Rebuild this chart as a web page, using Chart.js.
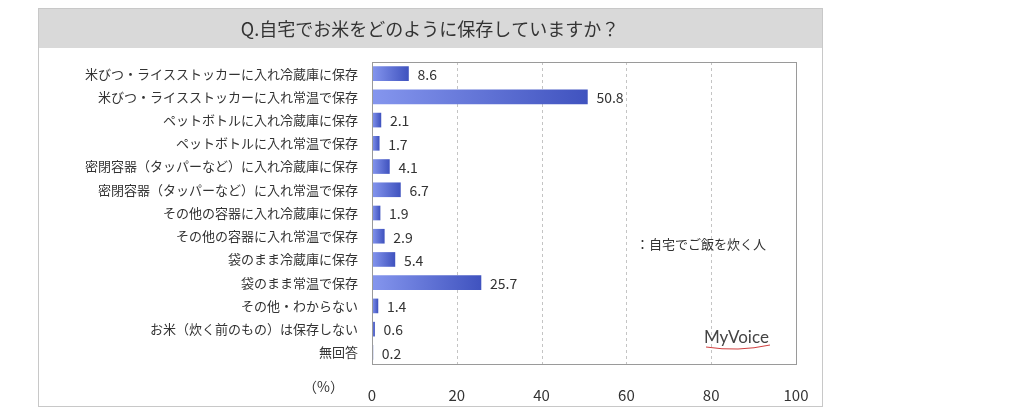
<!DOCTYPE html>
<html>
<head>
<meta charset="utf-8">
<script src="https://cdn.jsdelivr.net/npm/chart.js@4.4.1/dist/chart.umd.min.js"></script>
<style>
  html, body { margin: 0; padding: 0; background: #fff; }
  #wrap { position: relative; width: 1024px; height: 412px; }
</style>
</head>
<body>
<div id="wrap"><canvas id="riceChart" width="1024" height="412"></canvas></div>
<script>
var categories = [
  '米びつ・ライスストッカーに入れ冷蔵庫に保存',
  '米びつ・ライスストッカーに入れ常温で保存',
  'ペットボトルに入れ冷蔵庫に保存',
  'ペットボトルに入れ常温で保存',
  '密閉容器（タッパーなど）に入れ冷蔵庫に保存',
  '密閉容器（タッパーなど）に入れ常温で保存',
  'その他の容器に入れ冷蔵庫に保存',
  'その他の容器に入れ常温で保存',
  '袋のまま冷蔵庫に保存',
  '袋のまま常温で保存',
  'その他・わからない',
  'お米（炊く前のもの）は保存しない',
  '無回答'
];
var values = [8.6, 50.8, 2.1, 1.7, 4.1, 6.7, 1.9, 2.9, 5.4, 25.7, 1.4, 0.6, 0.2];
var xTicks = [0, 20, 40, 60, 80, 100];
var titleText = 'Q.自宅でお米をどのように保存していますか？';
var legendText = '：自宅でご飯を炊く人';

var FONT = '"Noto Sans CJK JP", "Noto Sans", sans-serif';

function barColor(ctx) {
  var chart = ctx.chart;
  var area = chart.chartArea;
  if (!area) return '#5a6cd6';
  var xs = chart.scales.x;
  var end = xs.getPixelForValue(values[ctx.dataIndex]);
  var g = chart.ctx.createLinearGradient(area.left, 0, Math.max(end, area.left + 1), 0);
  g.addColorStop(0, '#8596ee');
  g.addColorStop(1, '#4053bf');
  return g;
}

// frame, title band, dashed grid, plot border, labels
var decor = {
  id: 'decor',
  beforeDraw: function (chart) {
    var c = chart.ctx;
    c.save();
    c.fillStyle = '#fff';
    c.fillRect(0, 0, chart.width, chart.height);
    c.fillStyle = '#d9d9d9';
    c.fillRect(38, 8, 784, 40);
    c.strokeStyle = '#c8c8c8';
    c.lineWidth = 1;
    c.strokeRect(38.5, 8.5, 784, 398);
    c.fillStyle = '#333';
    c.font = '18px ' + FONT;
    c.textAlign = 'center';
    c.textBaseline = 'middle';
    c.fillText(titleText, 430, 29);
    c.restore();
  },
  beforeDatasetsDraw: function (chart) {
    var c = chart.ctx;
    var a = chart.chartArea;
    var xs = chart.scales.x;
    c.save();
    c.strokeStyle = '#c4c4c4';
    c.lineWidth = 1;
    c.setLineDash([3, 3]);
    [20, 40, 60, 80].forEach(function (v) {
      var x = Math.round(xs.getPixelForValue(v)) + 0.5;
      c.beginPath();
      c.moveTo(x, a.top);
      c.lineTo(x, a.bottom);
      c.stroke();
    });
    c.restore();
  },
  afterDatasetsDraw: function (chart) {
    var c = chart.ctx;
    var a = chart.chartArea;
    var meta = chart.getDatasetMeta(0);
    c.save();
    c.strokeStyle = '#9a9a9a';
    c.lineWidth = 1;
    c.strokeRect(Math.round(a.left) + 0.5, Math.round(a.top) + 0.5, Math.round(a.right - a.left), Math.round(a.bottom - a.top));
    c.fillStyle = '#333';
    c.font = '14px ' + FONT;
    c.textAlign = 'left';
    c.textBaseline = 'middle';
    meta.data.forEach(function (bar, i) {
      c.fillText(values[i].toFixed(1), bar.x + 9, bar.y + 1);
    });
    c.font = '13px ' + FONT;
    c.fillText(legendText, 636, 244);
    c.font = '14px ' + FONT;
    c.textAlign = 'right';
    c.fillText('（%）', 344, 387);
    c.font = '17px Lato, "Open Sans", sans-serif';
    c.fillStyle = '#444';
    c.textAlign = 'left';
    c.fillText('MyVoice', 704, 338);
    c.strokeStyle = '#d04040';
    c.lineWidth = 1;
    c.beginPath();
    c.moveTo(706, 347);
    c.quadraticCurveTo(738, 352, 770, 345);
    c.stroke();
    c.restore();
  }
};

new Chart(document.getElementById('riceChart'), {
  type: 'bar',
  data: {
    labels: categories,
    datasets: [{
      data: values,
      backgroundColor: barColor,
      borderWidth: 0,
      barThickness: 14
    }]
  },
  options: {
    indexAxis: 'y',
    responsive: false,
    animation: false,
    layout: { padding: { top: 62, right: 228, left: 0, bottom: 0 } },
    plugins: { legend: { display: false }, tooltip: { enabled: false } },
    scales: {
      x: {
        min: 0,
        max: 100,
        afterBuildTicks: function (scale) {
          scale.ticks = xTicks.map(function (v) { return { value: v }; });
        },
        afterFit: function (scale) { scale.height = 48; },
        border: { display: false },
        grid: { display: false },
        ticks: {
          color: '#333',
          font: { size: 15, family: FONT },
          padding: 14
        }
      },
      y: {
        afterFit: function (scale) { scale.width = 372; },
        grid: { display: false },
        border: { display: false },
        ticks: {
          color: '#333',
          font: { size: 13, family: FONT },
          padding: 6
        }
      }
    }
  },
  plugins: [decor]
});
</script>
</body>
</html>
